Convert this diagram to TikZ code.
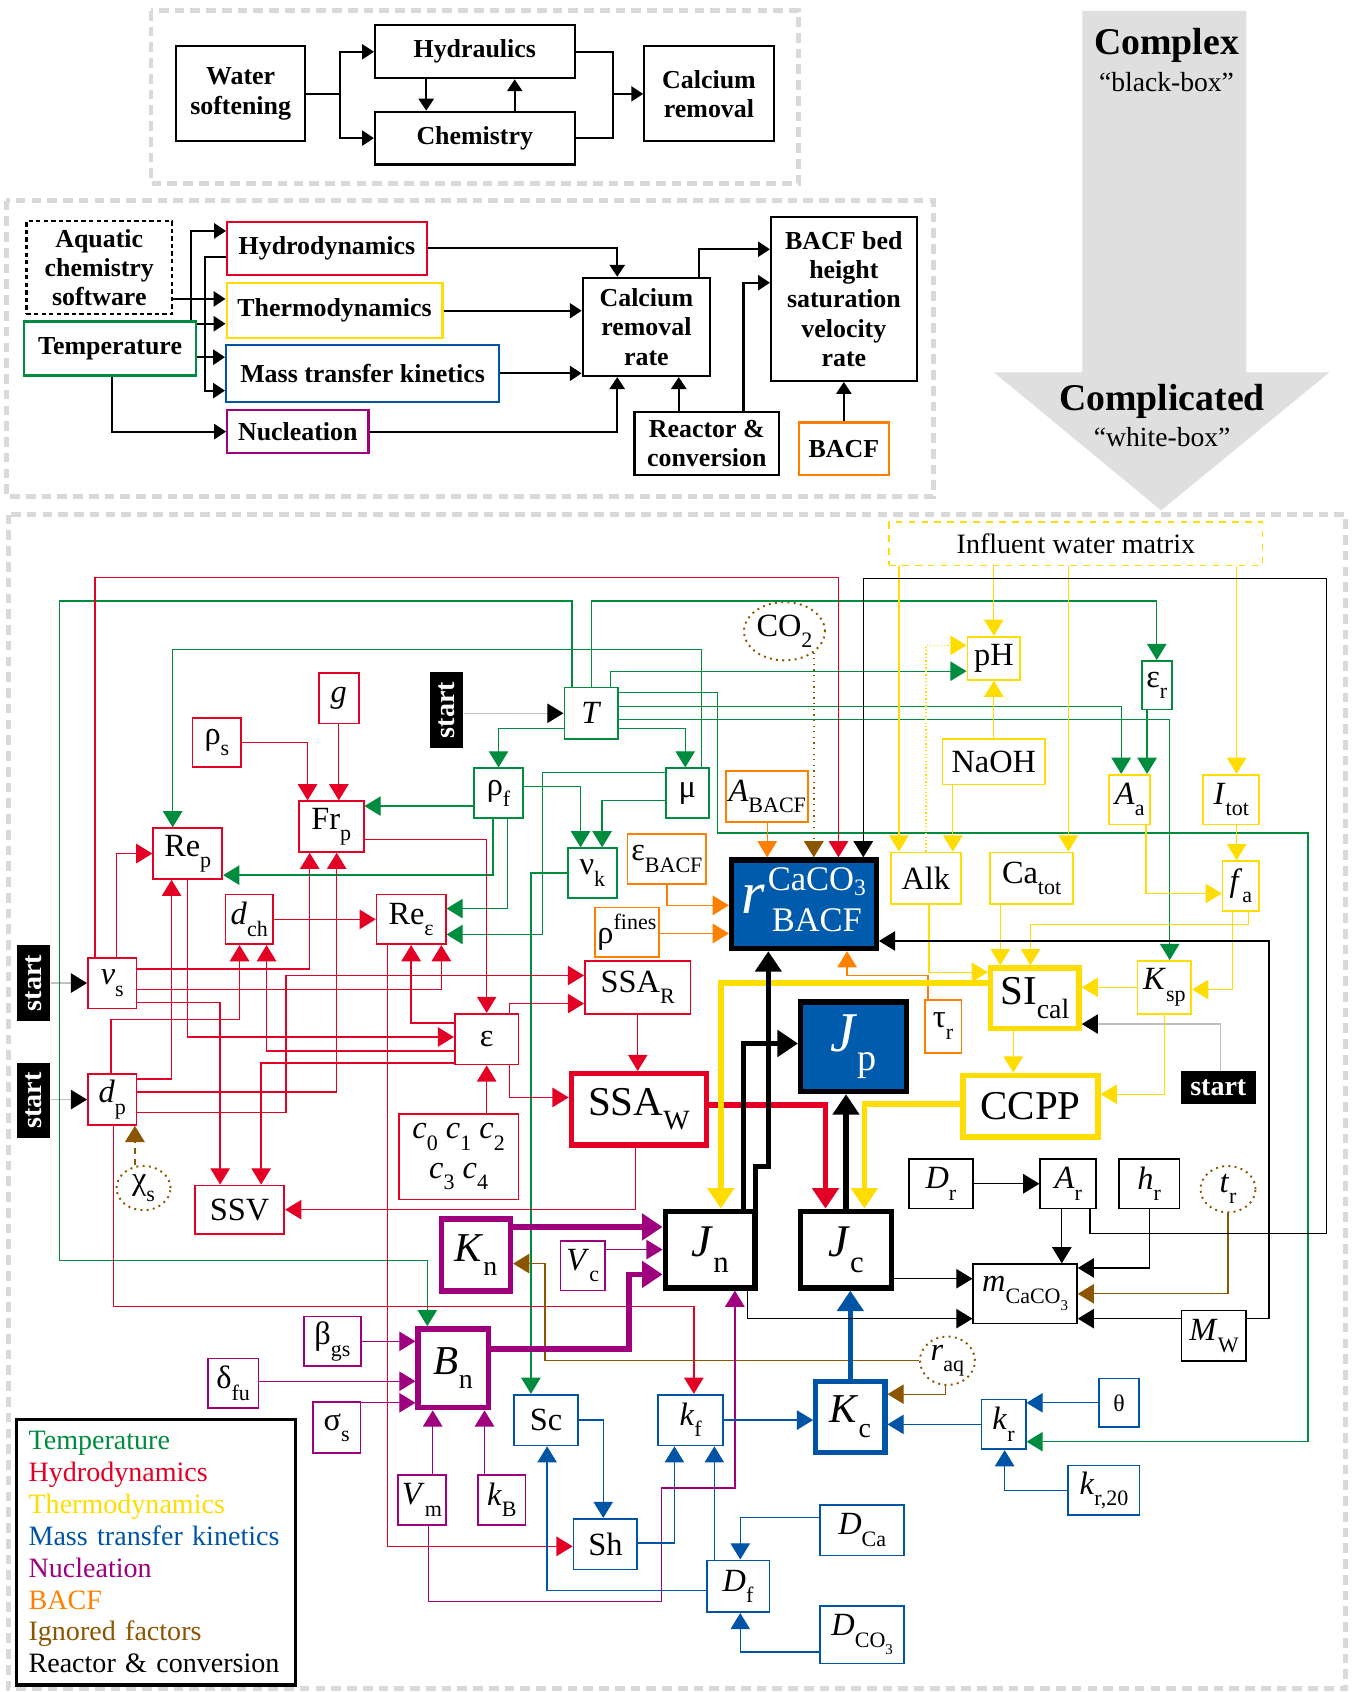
\documentclass[tikz,border=0pt]{standalone}
\usepackage{fontspec}
\setmainfont{Liberation Serif}
\usepackage{tikz}
\usetikzlibrary{arrows.meta,shapes.geometric,positioning}
\usepackage{xcolor}
\definecolor{tgreen}{RGB}{0,140,62}
\definecolor{hred}{RGB}{228,0,36}
\definecolor{tyellow}{RGB}{255,221,0}
\definecolor{mblue}{RGB}{0,84,166}
\definecolor{rblue}{RGB}{0,91,172}
\definecolor{npurple}{RGB}{158,0,126}
\definecolor{borange}{RGB}{255,128,0}
\definecolor{ibrown}{RGB}{140,86,0}
\newcommand{\ix}[2]{#1\raisebox{-0.35em}{\scalebox{0.68}{#2}}}
\newcommand{\ux}[2]{#1\raisebox{0.45em}{\scalebox{0.68}{#2}}}
\newcommand{\boxfont}{\fontsize{12}{13.6}\selectfont\bfseries}
\newcommand{\varfont}{\fontsize{15}{17}\selectfont}
\newcommand{\bigfont}{\fontsize{19}{21}\selectfont}
\newcommand{\jfont}{\fontsize{21}{23}\selectfont}
\tikzstyle{panelframe} = [draw=black!15, line width=2.2pt, dash pattern=on 4.5pt off 2.8pt]
\tikzstyle{blk} = [rectangle, draw, line width=1pt, align=center, font=\boxfont, inner sep=1pt]
\tikzstyle{arr} = [line width=1pt, ->, >={Triangle[length=5.5pt,width=7pt]}]
\tikzstyle{varbox} = [rectangle, draw, line width=0.8pt, inner sep=1pt, font=\varfont]
\tikzstyle{thickbox} = [varbox, line width=2.5pt, font=\bigfont]
\tikzstyle{ign} = [ellipse, draw=ibrown, dotted, line width=0.9pt, inner sep=0pt, font=\varfont]
\tikzstyle{startbox} = [rectangle, fill=black, text=white, font=\fontsize{13}{15}\selectfont\bfseries, minimum width=35pt, minimum height=15.5pt, inner sep=0pt]
\tikzstyle{link} = [line width=0.6pt, ->, >={Triangle[length=7.5pt,width=9pt]}]
\tikzstyle{heavy} = [line width=2.6pt, ->, >={Triangle[length=9.5pt,width=12pt]}]
\tikzstyle{startlink} = [draw=black!25, line width=0.6pt, -{Triangle[length=7.5pt,width=9pt,color=black]}]
\tikzset{wh/.style 2 args={minimum width=#1pt, minimum height=#2pt}}

\begin{document}
\begin{tikzpicture}[x=0.5pt, y=-0.5pt]
\useasboundingbox (0,0) rectangle (1252,1568);

% Black-box view
\draw[panelframe] (140,10) rectangle (740,170);
\node[blk, wh={60}{44}] (soft) at (223,87) {Water\\softening};
\node[blk, wh={92.5}{24.5}] (hydraul) at (440,48) {Hydraulics};
\node[blk, wh={92.5}{24.5}] (chem) at (440,128) {Chemistry};
\node[blk, wh={60}{44}] (caremoval) at (657,87) {Calcium\\removal};

\draw[arr] (soft.east) -| (315,48) -- (hydraul.west);
\draw[arr] (soft.east) -| (315,128) -- (chem.west);
\draw[arr] (hydraul.south -| 395,0) -- (chem.north -| 395,0);
\draw[arr] (chem.north -| 477,0) -- (hydraul.south -| 477,0);
\draw[arr] (hydraul.east) -| (568,87) -- (caremoval.west);
\draw[line width=1pt] (chem.east) -| (568,87);

% Sub-process view
\draw[panelframe] (6,186) rectangle (865,460);
\node[blk, dash pattern=on 2pt off 1.5pt, wh={67.5}{43}] (aquatic) at (92,248) {Aquatic\\chemistry\\software};
\node[blk, draw=tgreen, wh={79.5}{25}] (temp) at (102,323) {Temperature};
\node[blk, draw=hred, wh={92.5}{24.5}] (hydro) at (303,230) {Hydrodynamics};
\node[blk, draw=tyellow, wh={100}{25.5}] (thermo) at (310,288) {Thermodynamics};
\node[blk, draw=mblue, wh={126.5}{26.5}] (masstr) at (336,346) {Mass transfer kinetics};
\node[blk, draw=npurple, wh={65.5}{20}] (nucl) at (276,400) {Nucleation};
\node[blk, wh={59}{45.5}] (carate) at (599,303) {Calcium\\removal\\rate};
\node[blk, wh={67.5}{76}] (bed) at (782,277) {BACF bed\\height\\saturation\\velocity\\rate};
\node[blk, wh={67}{29}] (reactor) at (655,411) {Reactor \&\\conversion};
\node[blk, draw=borange, wh={41.5}{24.5}] (bacf) at (782,416) {BACF};

\draw[arr] (temp.north -| 177,0) |- (hydro.west |- 0,214);
\draw[arr] (aquatic.east |- 0,277) -- (thermo.west |- 0,277);
\draw[arr] (temp.east |- 0,300) -- (thermo.west |- 0,300);
\draw[arr] (temp.east |- 0,331) -- (masstr.west |- 0,331);
\draw[arr] (hydro.west |- 0,238) -| (190,362) -- (masstr.west |- 0,362);
\draw[arr] (temp.south -| 104,0) |- (nucl.west);
\draw[arr] (hydro.east) -| (carate.north -| 572,0);
\draw[arr] (thermo.east) -- (carate.west |- thermo.east);
\draw[arr] (masstr.east) -- (carate.west |- masstr.east);
\draw[arr] (nucl.east) -| (carate.south -| 572,0);
\draw[arr] (reactor.north -| 629,0) -- (carate.south -| 629,0);
\draw[arr] (carate.north -| 648,0) |- (bed.west |- 0,231);
\draw[arr] (reactor.north -| 689,0) |- (bed.west |- 0,262);
\draw[arr] (bacf) -- (bed);

% From complex to complicated
\fill[gray!25] (1003,10) -- (1155,10) -- (1155,345) -- (1232,345) -- (1076,473) -- (921,345) -- (1003,345) -- cycle;
\node[font=\fontsize{17.5}{20}\selectfont\bfseries] (complex) at (1081,42) {Complex};
\node[font=\fontsize{12.8}{15}\selectfont] (blackbox) at (1081,76) {``black-box''};
\node[font=\fontsize{17.5}{20}\selectfont\bfseries] (complicated) at (1077,372) {Complicated};
\node[font=\fontsize{12.8}{15}\selectfont] (whitebox) at (1077,405) {``white-box''};

% White-box view
\draw[panelframe] (8,477) rectangle (1247,1565);

% temperature
\node[varbox, draw=tgreen, wh={25}{24}] (T) at (548,661) {\textit{T}};
\node[varbox, draw=tgreen, wh={14}{22.5}] (epsr) at (1072,635) {\ix{ε}{r}};
\node[varbox, draw=tgreen, wh={22.5}{23}] (rhof) at (462,735) {\ix{ρ}{f}};
\node[varbox, draw=tgreen, wh={20}{23}] (mu) at (637,735) {μ};
\node[varbox, draw=tgreen, wh={22.5}{23}] (nuk) at (549,809) {\ix{ν}{k}};
% hydrodynamics
\node[varbox, draw=hred, wh={18.5}{23.5}] (g) at (314,647) {\textit{g}};
\node[varbox, draw=hred, wh={22.5}{22.5}] (rhos) at (201,688) {\ix{ρ}{s}};
\node[varbox, draw=hred, wh={32}{23.5}] (Rep) at (174,791) {\ix{Re}{p}};
\node[varbox, draw=hred, wh={30}{23.5}] (Frp) at (307,766) {\ix{Fr}{p}};
\node[varbox, draw=hred, wh={22}{23}] (dch) at (231,852) {\ix{\textit{d}}{ch}};
\node[varbox, draw=hred, wh={32}{23}] (Reeps) at (381,852) {\ix{Re}{ε}};
\node[varbox, draw=hred, wh={22.5}{23.5}] (vs) at (104,911) {\ix{\textit{v}}{s}};
\node[varbox, draw=hred, wh={22.5}{23.5}] (dp) at (104,1019) {\ix{\textit{d}}{p}};
\node[varbox, draw=hred, wh={49}{24.5}] (ssar) at (591,915) {\ix{SSA}{R}};
\node[varbox, draw=hred, wh={29.5}{23.5}] (eps) at (451,963) {ε};
\node[thickbox, draw=hred, wh={62.5}{33}] (ssaw) at (592,1028) {\ix{SSA}{W}};
\node[varbox, draw=hred, wh={55.5}{39.5}, align=center] (cs) at (425,1072) {\ix{\textit{c}}{0} \ix{\textit{c}}{1} \ix{\textit{c}}{2}\\[1.5pt]\ix{\textit{c}}{3} \ix{\textit{c}}{4}};
\node[varbox, draw=hred, wh={41.5}{22.5}] (ssv) at (222,1121) {SSV};
% thermodynamics
\node[varbox, draw=tyellow, dashed, wh={173}{20}, font=\fontsize{13}{15}\selectfont] (influent) at (997,504) {Influent water matrix};
\node[varbox, draw=tyellow, wh={24.5}{20}] (pH) at (921,610) {pH};
\node[varbox, draw=tyellow, wh={47.5}{21}] (naoh) at (921,706) {NaOH};
\node[varbox, draw=tyellow, wh={19}{23}] (Aa) at (1047,741) {\ix{\textit{A}}{a}};
\node[varbox, draw=tyellow, wh={26}{23}] (Itot) at (1141,741) {\ix{\textit{I}}{tot}};
\node[varbox, draw=tyellow, wh={32.5}{24}] (alk) at (858,814) {Alk};
\node[varbox, draw=tyellow, wh={38.5}{24}] (catot) at (956,814) {\ix{Ca}{tot}};
\node[varbox, draw=tyellow, wh={17}{23}] (fa) at (1150,821) {\ix{\textit{f}}{a}};
\node[thickbox, draw=tyellow, wh={41}{28}] (sical) at (959,925) {\ix{SI}{cal}};
\node[varbox, draw=tyellow, wh={25}{24.5}] (ksp) at (1079,915) {\ix{\textit{K}}{sp}};
\node[thickbox, draw=tyellow, wh={62.5}{28.5}] (ccpp) at (955,1025) {CCPP};
% BACF
\node[varbox, draw=borange, wh={38}{23.5}] (abacf) at (711,738) {\ix{\textit{A}}{BACF}};
\node[varbox, draw=borange, wh={36.5}{23}] (epsbacf) at (618,796) {\ix{ε}{BACF}};
\node[varbox, draw=borange, wh={29.5}{23}] (rhofines) at (581,864) {\ux{ρ}{fines}};
\node[varbox, draw=borange, wh={17}{24.5}] (taur) at (874,951) {\ix{τ}{r}};
% reactor and conversion
\node[thickbox, fill=rblue, text=white, wh={67}{41}] (rbacf) at (745,838) {{\fontsize{28}{28}\selectfont\textit{r}}\hspace{1pt}{\fontsize{16}{16}\selectfont\begin{tabular}{@{}c@{}}CaCO\raisebox{-0.15em}{\scalebox{0.68}{3}}\\[3pt]BACF\end{tabular}}};
\node[thickbox, fill=rblue, text=white, wh={49}{41.5}, font=\fontsize{26}{28}\selectfont] (Jp) at (791,970) {\ix{\textit{J}}{p}};
\node[thickbox, wh={41.5}{35.5}, font=\jfont] (Jn) at (658,1158) {\ix{\textit{J}}{n}};
\node[thickbox, wh={42}{35.5}, font=\jfont] (Jc) at (784,1158) {\ix{\textit{J}}{c}};
\node[varbox, wh={29.5}{23}] (Dr) at (872,1097) {\ix{\textit{D}}{r}};
\node[varbox, wh={26}{23}] (Ar) at (990,1097) {\ix{\textit{A}}{r}};
\node[varbox, wh={28}{23}] (hr) at (1065,1097) {\ix{\textit{h}}{r}};
\node[varbox, wh={48}{27.5}] (mcaco) at (950,1199) {\ix{\textit{m}}{CaCO\ix{}{3}}};
\node[varbox, wh={30}{23.5}] (MW) at (1125,1238) {\ix{\textit{M}}{W}};
% nucleation
\node[thickbox, draw=npurple, wh={32}{33.5}] (Kn) at (441,1163) {\ix{\textit{K}}{n}};
\node[varbox, draw=npurple, wh={20.5}{23}] (Vc) at (540,1173) {\ix{\textit{V}}{c}};
\node[varbox, draw=npurple, wh={26.5}{23}] (betags) at (308,1243) {\ix{β}{gs}};
\node[thickbox, draw=npurple, wh={32.5}{36.5}] (Bn) at (420,1268) {\ix{\textit{B}}{n}};
\node[varbox, draw=npurple, wh={23.5}{23}] (deltafu) at (216,1282) {\ix{δ}{fu}};
\node[varbox, draw=npurple, wh={22}{23.5}] (sigmas) at (312,1323) {\ix{σ}{s}};
\node[varbox, draw=npurple, wh={22.5}{23}] (Vm) at (391,1390) {\ix{\textit{V}}{m}};
\node[varbox, draw=npurple, wh={22}{23}] (kB) at (465,1390) {\ix{\textit{k}}{B}};
% mass transfer
\node[varbox, draw=mblue, wh={29.5}{23.5}] (Sc) at (506,1316) {Sc};
\node[varbox, draw=mblue, wh={30}{23.5}] (kf) at (640,1316) {\ix{\textit{k}}{f}};
\node[thickbox, draw=mblue, wh={32}{33}] (Kc) at (788,1313) {\ix{\textit{K}}{c}};
\node[varbox, draw=mblue, wh={20.5}{23}] (kr) at (930,1320) {\ix{\textit{k}}{r}};
\node[varbox, draw=mblue, wh={18.5}{22.5}, font=\fontsize{11}{13}\selectfont] (theta) at (1037,1300) {θ};
\node[varbox, draw=mblue, wh={33}{23}] (kr20) at (1023,1381) {\ix{\textit{k}}{r,20}};
\node[varbox, draw=mblue, wh={29.5}{23.5}] (Sh) at (561,1431) {Sh};
\node[varbox, draw=mblue, wh={39}{23.5}] (DCa) at (799,1418) {\ix{\textit{D}}{Ca}};
\node[varbox, draw=mblue, wh={29}{24}] (Df) at (684,1470) {\ix{\textit{D}}{f}};
\node[varbox, draw=mblue, wh={39}{26.5}] (DCO3) at (799,1515) {\ix{\textit{D}}{CO\ix{}{3}}};
% ignored factors
\node[ign, wh={37.5}{27}] (co2) at (727,585) {\ix{CO}{2}};
\node[ign, wh={25}{20.5}] (chis) at (133,1101) {\ix{χ}{s}};
\node[ign, wh={25.5}{21.5}] (tr) at (1138,1102) {\ix{\textit{t}}{r}};
\node[ign, wh={25.5}{22.5}] (raq) at (878,1261) {\ix{\textit{r}}{aq}};
% start points
\node[startbox, rotate=90] (startT) at (414,658) {start};
\node[startbox, rotate=90] (startv) at (31,911) {start};
\node[startbox, rotate=90] (startd) at (31,1020) {start};
\node[startbox] (startsi) at (1129,1008) {start};

% Legend
\node[draw, line width=1.5pt, anchor=north west, wh={129}{123}, text width=118pt, align=left, inner xsep=4pt, font=\fontsize{13}{14.75}\selectfont] (legend) at (14,1314) {\textcolor{tgreen}{Temperature}\\\textcolor{hred}{Hydrodynamics}\\\textcolor{tyellow}{Thermodynamics}\\\textcolor{mblue}{Mass transfer kinetics}\\\textcolor{npurple}{Nucleation}\\\textcolor{borange}{BACF}\\\textcolor{ibrown}{Ignored factors}\\Reactor \& conversion};

% Start links
\draw[startlink] (startT.south |- T.west) -- (T.west);
\draw[startlink] (startv.south |- vs.west) -- (vs.west);
\draw[startlink] (startd.south |- dp.west) -- (dp.west);
\draw[startlink] (startsi.north -| 1131,0) |- (sical.east |- 0,949);

% Temperature links
\draw[link, tgreen] (T.north -| 530,0) |- (55,557) |- (396,1168) -- (Bn.north -| 396,0);
\draw[link, tgreen] (T.north -| 548,0) |- (1072,557) -- (epsr.north);
\draw[link, tgreen] (T.north -| 566,0) |- (pH.west |- 0,622);
\draw[link, tgreen] (T.east |- 0,642) -| (665,772) -| (1212,1336) -- (kr.east |- 0,1336);
\draw[link, tgreen] (T.east |- 0,655) -| (Aa.north -| 1039,0);
\draw[link, tgreen] (T.east |- 0,667) -| (ksp.north -| 1084,0);
\draw[link, tgreen] (T.east |- 0,675) -| (mu.north -| 635,0);
\draw[link, tgreen] (T.west |- 0,675) -| (rhof.north);
\draw[link, tgreen] (epsr.south -| 1063,0) -- (Aa.north -| 1063,0);
\draw[link, tgreen] (mu.north -| 650,0) |- (160,602) -- (Rep.north -| 160,0);
\draw[link, tgreen] (rhof.west |- 0,747) -- (Frp.east |- 0,747);
\draw[link, tgreen] (rhof.south -| 457,0) |- (Rep.east |- 0,811);
\draw[link, tgreen] (rhof.south -| 470,0) |- (Reeps.east |- 0,842);
\draw[link, tgreen] (rhof.east |- 0,729) -| (nuk.north -| 538,0);
\draw[link, tgreen] (mu.west |- 0,742) -| (nuk.north -| 558,0);
\draw[link, tgreen] (mu.west |- 0,716) -| (503,866) -- (Reeps.east |- 0,866);
\draw[link, tgreen] (nuk.west) -| (Sc.north -| 492,0);

% Hydrodynamics links
\draw[link, hred] (vs.north -| 88,0) |- (777,535) -- (rbacf.north -| 777,0);
\draw[link, hred] (vs.north -| 108,0) |- (Rep.west);
\draw[link, hred] (vs.east |- 0,898) -| (Frp.south -| 287,0);
\draw[link, hred] (vs.east |- 0,917) -| (Reeps.south -| 409,0);
\draw[link, hred] (vs.east |- 0,929) -| (ssv.north -| 204,0);
\draw[link, hred] (dp.east |- 0,1031) -| (265,904) -- (ssar.west |- 0,904);
\draw[link, hred] (dp.east |- 0,1000) -| (Rep.south -| 159,0);
\draw[link, hred] (dp.east |- 0,1012) -| (Frp.south -| 312,0);
\draw[link, hred] (dp.north -| 103,0) |- (222,945) -- (dch.south -| 222,0);
\draw[link, hred] (dp.south -| 105,0) |- (643,1211) -- (kf.north -| 643,0);
\draw[link, hred] (Rep.south -| 174,0) |- (eps.west |- 0,961);
\draw[link, hred] (eps.west |- 0,974) -| (dch.south -| 247,0);
\draw[link, hred] (eps.west |- 0,985) -| (ssv.north -| 242,0);
\draw[link, hred] (eps.west |- 0,948) -| (Reeps.south);
\draw[link, hred] (eps.north -| 472,0) |- (ssar.west |- 0,930);
\draw[link, hred] (eps.south -| 472,0) |- (ssaw.west |- 0,1017);
\draw[link, hred] (cs.north -| 451,0) -- (eps.south -| 451,0);
\draw[link, hred] (Frp.east |- 0,778) -| (eps.north -| 451,0);
\draw[link, hred] (rhos.east) -| (Frp.north -| 285,0);
\draw[link, hred] (g) -- (Frp.north -| g.south);
\draw[link, hred] (dch) -- (Reeps);
\draw[link, hred] (Reeps.south -| 359,0) |- (Sh.west |- 0,1433);
\draw[link, hred] (ssar.south) -- (ssar.south |- ssaw.north);
\draw[link, hred] (ssaw.south -| 589,0) |- (ssv.east);
\draw[heavy, hred] (ssaw.east |- 0,1024) -| (Jc.north -| 765,0);

% BACF links
\draw[link, borange] (abacf) -- (rbacf.north -| abacf.south);
\draw[link, borange] (epsbacf.south) |- (rbacf.west |- 0,839);
\draw[link, borange] (rhofines.east |- 0,865) -- (rbacf.west |- 0,865);
\draw[link, borange] (taur.north -| 860,0) |- (785,904) -- (rbacf.south -| 785,0);

% Ignored factors
\draw[link, ibrown, dotted, line width=0.9pt] (co2.south east) -- (rbacf.north -| co2.south east);
\draw[link, ibrown, densely dashed, line width=0.9pt] (chis.north -| 125,0) -- (dp.south -| 125,0);
\draw[link, ibrown] (tr.south) |- (mcaco.east |- 0,1199);
\draw[link, ibrown] (raq.west) -| (505,1171) -- (Kn.east |- 0,1171);
\draw[link, ibrown] (raq.south -| 876,0) |- (Kc.east |- 0,1292);

% Thermodynamics links
\draw[link, tyellow] (influent.south -| 833,0) -- (alk.north -| 833,0);
\draw[link, tyellow] (influent.south -| pH.north) -- (pH.north);
\draw[link, tyellow] (influent.south -| 990,0) -- (catot.north -| 990,0);
\draw[link, tyellow] (influent.south -| 1146,0) -- (Itot.north -| 1146,0);
\draw[link, tyellow] (naoh) -- (pH);
\draw[link, tyellow] (naoh.south -| 883,0) -- (alk.north -| 883,0);
\draw[link, tyellow, densely dotted] (alk.north -| 858,0) |- (pH.west |- 0,598);
\draw[link, tyellow] (Itot.south -| 1146,0) -- (fa.north -| 1146,0);
\draw[link, tyellow] (Aa.south -| 1062,0) |- (fa.west |- 0,828);
\draw[link, tyellow] (fa.south -| 1157,0) |- (955,857) -- (sical.north -| 955,0);
\draw[link, tyellow] (fa.south -| 1142,0) |- (ksp.east |- 0,917);
\draw[link, tyellow] (catot.south -| 927,0) -- (sical.north -| 927,0);
\draw[link, tyellow] (alk.south -| 861,0) |- (sical.west |- 0,901);
\draw[link, tyellow] (ksp.west |- 0,915) -- (sical.east |- 0,915);
\draw[link, tyellow] (ksp.south) |- (ccpp.east |- 0,1014);
\draw[link, tyellow] (sical.south -| 939,0) -- (ccpp.north -| 939,0);
\draw[heavy, tyellow] (sical.west |- 0,911) -| (Jn.north -| 668,0);
\draw[heavy, tyellow] (ccpp.west |- 0,1023) -| (Jc.north -| 801,0);

% Nucleation links
\draw[heavy, npurple] (Kn.east |- 0,1137) -- (Jn.west |- 0,1137);
\draw[link, npurple] (Vc.east |- 0,1158) -- (Jn.west |- 0,1158);
\draw[heavy, npurple] (Bn.east |- 0,1250) -| (583,1181) -- (Jn.west |- 0,1181);
\draw[link, npurple] (betags.east) -- (Bn.west |- betags.east);
\draw[link, npurple] (deltafu.east |- 0,1280) -- (Bn.west |- 0,1280);
\draw[link, npurple] (sigmas.east |- 0,1300) -- (Bn.west |- 0,1300);
\draw[link, npurple] (Vm.north -| 401,0) -- (Bn.south -| 401,0);
\draw[link, npurple] (kB.north -| 449,0) -- (Bn.south -| 449,0);
\draw[link, npurple] (Vm.south -| 397,0) |- (613,1484) |- (681,1379) -- (Jn.south -| 681,0);

% Mass transfer links
\draw[heavy, mblue] (Kc.north) -- (Jc.south -| Kc.north);
\draw[link, mblue] (kf.east) -- (Kc.west |- kf.east);
\draw[link, mblue] (kr.west) -- (Kc.east |- kr.west);
\draw[link, mblue] (theta.west) -- (kr.east |- theta.west);
\draw[link, mblue] (kr20.west) -| (kr.south -| 931,0);
\draw[link, mblue] (Sc.east) -| (Sh.north -| 559,0);
\draw[link, mblue] (Sh.east |- 0,1430) -| (kf.south -| 625,0);
\draw[link, mblue] (Df.north -| 662,0) -- (kf.south -| 662,0);
\draw[link, mblue] (Df.west |- 0,1474) -| (Sc.south -| 507,0);
\draw[link, mblue] (DCa.west |- 0,1406) -| (Df.north -| 686,0);
\draw[link, mblue] (DCO3.west |- 0,1531) -| (Df.south -| 686,0);

% Reactor and conversion links
\draw[link] (Ar.south -| 1010,0) |- (1229,1143) |- (800,536) -- (rbacf.north -| 800,0);
\draw[link] (MW.east |- 0,1222) -| (1176,872) -- (rbacf.east |- 0,872);
\draw[heavy] (Jn.north -| 689,0) |- (Jp.west |- 0,967);
\draw[heavy] (Jn.north -| 700,0) |- (712,1081) -- (rbacf.south -| 712,0);
\draw[heavy] (Jc.north) -- (Jp.south -| Jc.north);
\draw[link] (Jc.east |- 0,1185) -- (mcaco.west |- 0,1185);
\draw[link] (Jn.south -| 693,0) |- (mcaco.west |- 0,1222);
\draw[link] (Dr) -- (Ar);
\draw[link] (Ar.south -| 984,0) -- (mcaco.north -| 984,0);
\draw[link] (hr.south -| 1065,0) |- (mcaco.east |- 0,1175);
\draw[link] (MW.west |- 0,1222) -- (mcaco.east |- 0,1222);
\end{tikzpicture}
\end{document}
